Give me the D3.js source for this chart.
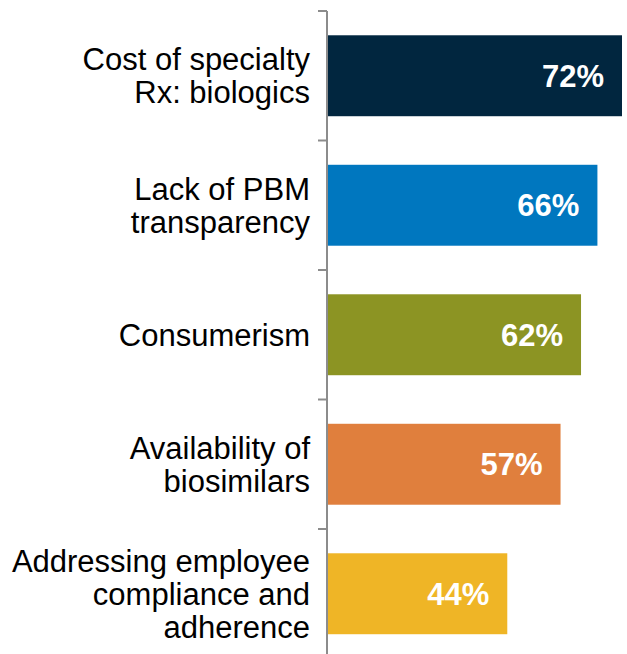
<!DOCTYPE html>
<html>
<head>
<meta charset="utf-8">
<script src="https://cdn.jsdelivr.net/npm/d3@7"></script>
<style>
	html, body { margin: 0; padding: 0; background: #fff; }
	#chart { width: 627px; height: 654px; }
	text { font-family: "Liberation Sans", Arial, sans-serif; }
</style>
</head>
<body>
<div id="chart"></div>
<script>
// Data
var categories = [
	["Cost of specialty", "Rx: biologics"],
	["Lack of PBM", "transparency"],
	["Consumerism"],
	["Availability of", "biosimilars"],
	["Addressing employee", "compliance and", "adherence"]
];
var values = [72, 66, 62, 57, 44];
var colors = ["#01263F", "#0077BF", "#8C9423", "#E07F3D", "#EFB526"];

var width = 627, height = 654;
var margin = {top: 11, right: 0, bottom: -4.5, left: 327};

var svg = d3.select("#chart").append("svg")
		.attr("width", width)
		.attr("height", height);

var idx = d3.range(values.length);

var xScale = d3.scaleLinear()
		.domain([0, 72])
		.range([margin.left, margin.left + 295]);

var yScale = d3.scaleBand()
		.domain(idx)
		.range([margin.top, height - margin.bottom])
		.paddingInner(0.375)
		.paddingOuter(0.1875);

// Bars
svg.append("g").attr("class", "bars")
	.selectAll("rect")
	.data(idx)
	.enter().append("rect")
		.attr("x", xScale(0))
		.attr("y", function(i) { return yScale(i); })
		.attr("width", function(i) { return xScale(values[i]) - xScale(0); })
		.attr("height", yScale.bandwidth())
		.style("fill", function(i) { return colors[i]; });

// Value labels
svg.append("g").attr("class", "values")
	.selectAll("text")
	.data(idx)
	.enter().append("text")
		.attr("x", function(i) { return xScale(values[i]) - 18; })
		.attr("y", function(i) { return yScale(i) + yScale.bandwidth() / 2; })
		.attr("dy", "0.36em")
		.attr("text-anchor", "end")
		.style("font-size", "31px")
		.style("font-weight", "bold")
		.style("fill", "#fff")
		.text(function(i) { return values[i] + "%"; });

// Axis: vertical line with ticks between categories
var axisG = svg.append("g").attr("class", "y axis");
var step = yScale.step();
var tickYs = d3.range(values.length + 1).map(function(k) { return margin.top + k * step; });

axisG.append("line")
		.attr("x1", margin.left).attr("x2", margin.left)
		.attr("y1", margin.top).attr("y2", height)
		.style("stroke", "#8c8c8c")
		.style("stroke-width", 2);

axisG.selectAll(".tick")
	.data(tickYs)
	.enter().append("line")
		.attr("class", "tick")
		.attr("x1", margin.left - 9).attr("x2", margin.left)
		.attr("y1", function(d) { return d; }).attr("y2", function(d) { return d; })
		.style("stroke", "#8c8c8c")
		.style("stroke-width", 2);

// Category labels
var lineHeight = 33;
svg.append("g").attr("class", "labels")
	.selectAll("text")
	.data(idx)
	.enter().append("text")
		.attr("text-anchor", "end")
		.style("font-size", "31px")
		.style("fill", "#000")
		.each(function(i) {
			var lines = categories[i];
			var cy = yScale(i) + yScale.bandwidth() / 2;
			var y0 = cy - (lines.length - 1) * lineHeight / 2;
			d3.select(this).selectAll("tspan")
				.data(lines)
				.enter().append("tspan")
					.attr("x", 310)
					.attr("y", function(d, j) { return y0 + j * lineHeight; })
					.attr("dy", "0.36em")
					.text(function(d) { return d; });
		});
</script>
</body>
</html>
